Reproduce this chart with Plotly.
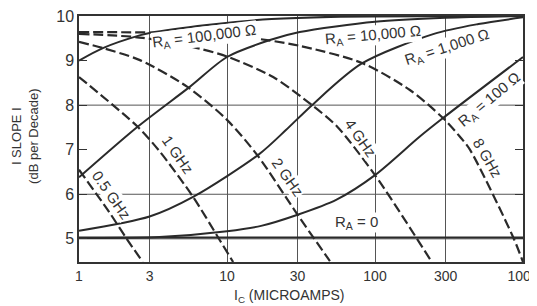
import math
import plotly.graph_objects as go

# ---- data ----
x_ticks = [1, 3, 10, 30, 100, 300, 1000]
x_tick_labels = ["1", "3", "10", "30", "100", "300", "1000"]
y_ticks = [5, 6, 7, 8, 9, 10]
y_grid = [5, 6, 8]

# solid curves: source resistance R_A
ic_ra_100k = [1, 1.45, 2.6, 3, 7.3, 20, 50, 1000]
slope_ra_100k = [9.0, 9.28, 9.57, 9.62, 9.8, 9.93, 9.98, 10.0]

ic_ra_10k = [1, 2.5, 5.6, 10, 19.5, 31, 100, 300, 1000]
slope_ra_10k = [6.38, 7.52, 8.41, 9.08, 9.46, 9.64, 9.87, 9.96, 10.0]

ic_ra_1k = [1, 3, 5.9, 16.5, 25, 37.5, 81, 250, 500, 1000]
slope_ra_1k = [5.18, 5.5, 5.94, 6.9, 7.44, 8.0, 8.93, 9.6, 9.82, 9.97]

ic_ra_100 = [1, 3.5, 10, 17, 30, 55, 100, 200, 288, 1000]
slope_ra_100 = [5.02, 5.04, 5.17, 5.29, 5.54, 5.88, 6.43, 7.29, 7.71, 9.08]

ic_ra_0 = [1, 1000]
slope_ra_0 = [5.03, 5.03]

# dashed curves: frequency
ic_f05 = [1, 1.6, 2.1, 2.7]
slope_f05 = [6.55, 5.6, 5.0, 4.48]

ic_f1 = [1, 2.5, 3.53, 5.9, 8.9, 11]
slope_f1 = [8.63, 7.51, 6.95, 5.94, 4.98, 4.48]

ic_f2 = [1, 1.45, 2.58, 5.4, 10, 16, 30, 49.6]
slope_f2 = [9.42, 9.28, 9.01, 8.41, 7.67, 6.88, 5.54, 4.5]

ic_f4 = [1, 2.7, 6.3, 10.2, 20.5, 37.5, 55.4, 100, 242]
slope_f4 = [9.6, 9.51, 9.28, 9.08, 8.63, 8.0, 7.52, 6.43, 4.48]

ic_f8 = [1, 4.3, 10, 18.6, 31, 81, 172, 288, 375, 438, 857, 1000]
slope_f8 = [9.64, 9.62, 9.56, 9.46, 9.33, 8.95, 8.34, 7.71, 7.29, 7.0, 5.04, 4.48]

solid_series = [
    (ic_ra_100k, slope_ra_100k),
    (ic_ra_10k, slope_ra_10k),
    (ic_ra_1k, slope_ra_1k),
    (ic_ra_100, slope_ra_100),
    (ic_ra_0, slope_ra_0),
]
dashed_series = [
    (ic_f05, slope_f05),
    (ic_f1, slope_f1),
    (ic_f2, slope_f2),
    (ic_f4, slope_f4),
    (ic_f8, slope_f8),
]

# curve labels: text, x (microamps), y (dB/decade), angle
curve_labels = [
    ("R<sub>A</sub> = 100,000 Ω", 7.1, 9.53, -7),
    ("R<sub>A</sub> = 10,000 Ω", 97, 9.57, -5),
    ("R<sub>A</sub> = 1,000 Ω", 306, 9.3, -18),
    ("R<sub>A</sub> = 100 Ω", 598, 8.12, -40),
    ("R<sub>A</sub> = 0", 75.5, 5.36, 0),
    ("0.5 GHz", 1.65, 5.99, 55),
    ("1 GHz", 4.67, 6.9, 55),
    ("2 GHz", 25.8, 6.37, 55),
    ("4 GHz", 80.4, 7.25, 55),
    ("8 GHz", 580, 6.8, 60),
]

INK = "#2a2a2a"
FONT = "Liberation Sans, Arial, sans-serif"

fig = go.Figure()
for xs, ys in solid_series:
    fig.add_trace(go.Scatter(x=xs, y=ys, mode="lines",
                             line=dict(color=INK, width=2, shape="spline", smoothing=0.8),
                             showlegend=False, hoverinfo="skip"))
for xs, ys in dashed_series:
    fig.add_trace(go.Scatter(x=xs, y=ys, mode="lines",
                             line=dict(color=INK, width=2.2, dash="10px,4px",
                                       shape="spline", smoothing=0.8),
                             showlegend=False, hoverinfo="skip"))

for gy in y_grid:
    fig.add_hline(y=gy, line=dict(color="#555555", width=1), layer="below")

for text, xv, yv, ang in curve_labels:
    fig.add_annotation(x=math.log10(xv), y=yv, xref="x", yref="y", text=text,
                       showarrow=False, textangle=ang, bgcolor="white", borderpad=0,
                       font=dict(family=FONT, size=15, color="#333333"))

# the page body adds an 8px offset; figure is sized to fill the rest of the window
fig.add_annotation(x=0.473, y=-0.138, xref="paper", yref="paper",
                   text="I<sub>C</sub> (MICROAMPS)", showarrow=False,
                   xanchor="center", yanchor="middle",
                   font=dict(family=FONT, size=14, color="#333333"))
fig.add_annotation(x=-0.122, y=0.512, xref="paper", yref="paper",
                   text="I SLOPE I<br>(dB per Decade)", showarrow=False, textangle=-90,
                   xanchor="center", yanchor="middle",
                   font=dict(family=FONT, size=13, color="#333333"))

fig.update_xaxes(type="log", range=[0, 3], tickvals=x_ticks, ticktext=x_tick_labels,
                 showgrid=True, gridcolor="#555555", gridwidth=1,
                 showline=True, linecolor="#333333", linewidth=1.5, mirror=True,
                 ticks="", zeroline=False, ticklabeloverflow="allow", automargin=False,
                 tickfont=dict(family=FONT, size=14, color="#333333"))
fig.update_yaxes(range=[4.48, 10.0], tickvals=y_ticks,
                 showgrid=False, showline=True, linecolor="#333333", linewidth=1.5,
                 mirror="ticks", ticks="inside", ticklen=8, tickcolor="#333333",
                 tickwidth=1.2, zeroline=False, automargin=False,
                 ticklabeloverflow="allow",
                 tickfont=dict(family=FONT, size=16, color="#333333"))

fig.update_layout(width=529, height=298, autosize=False,
                  margin=dict(l=71, r=14, t=8, b=44),
                  paper_bgcolor="white", plot_bgcolor="white")

fig.write_html("out.html")
